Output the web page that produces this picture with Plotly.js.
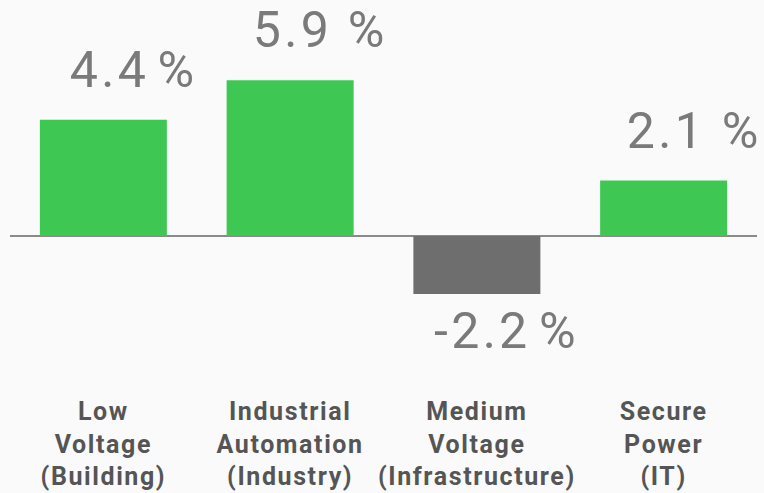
<!DOCTYPE html>
<html>
<head>
<meta charset="utf-8">
<script src="https://cdn.plot.ly/plotly-3.0.1.min.js"></script>
<style>
html,body{margin:0;padding:0;background:#fafafa;}
#chart .annotation-text{letter-spacing:3.3px;}
#chart .xtick text{letter-spacing:1.6px;}
</style>
</head>
<body>
<div id="chart" style="width:764px;height:493px;"></div>
<script>
const categories = ["Low<br>Voltage<br>(Building)", "Industrial<br>Automation<br>(Industry)", "Medium<br>Voltage<br>(Infrastructure)", "Secure<br>Power<br>(IT)"];
const values = [4.4, 5.9, -2.2, 2.1];
const valueLabels = ["4.4\u200A%", "5.9 %", "-2.2\u200A%", "2.1 %"];
const colors = values.map(v => v >= 0 ? "#3fc753" : "#6e6e6e");

const annotations = values.map((v, i) => ({
  x: categories[i], y: v, xref: "x", yref: "y",
  text: valueLabels[i], showarrow: false,
  xanchor: "center", yanchor: "middle",
  xshift: 30, yshift: v >= 0 ? 50 : -37,
  font: {family: "Roboto", size: 50, color: "#7a7a7a"}
}));

Plotly.newPlot("chart", [{
  type: "bar", x: categories, y: values,
  marker: {color: colors, line: {width: 0}},
  hoverinfo: "none"
}], {
  width: 764, height: 493,
  margin: {l: 10, r: 7, t: 10, b: 100},
  paper_bgcolor: "#fafafa", plot_bgcolor: "#fafafa",
  bargap: 0.32,
  showlegend: false,
  xaxis: {showgrid: false, zeroline: false, showline: false, ticks: "", ticklabelstandoff: 1,
    tickfont: {family: "Roboto", size: 25, color: "#555555", weight: "bold"}},
  yaxis: {range: [-5.947, 8.561], showgrid: false, showticklabels: false, ticks: "",
    zeroline: true, zerolinecolor: "#8a8a8a", zerolinewidth: 1.5, showline: false},
  annotations: annotations
}, {staticPlot: true});
</script>
</body>
</html>
